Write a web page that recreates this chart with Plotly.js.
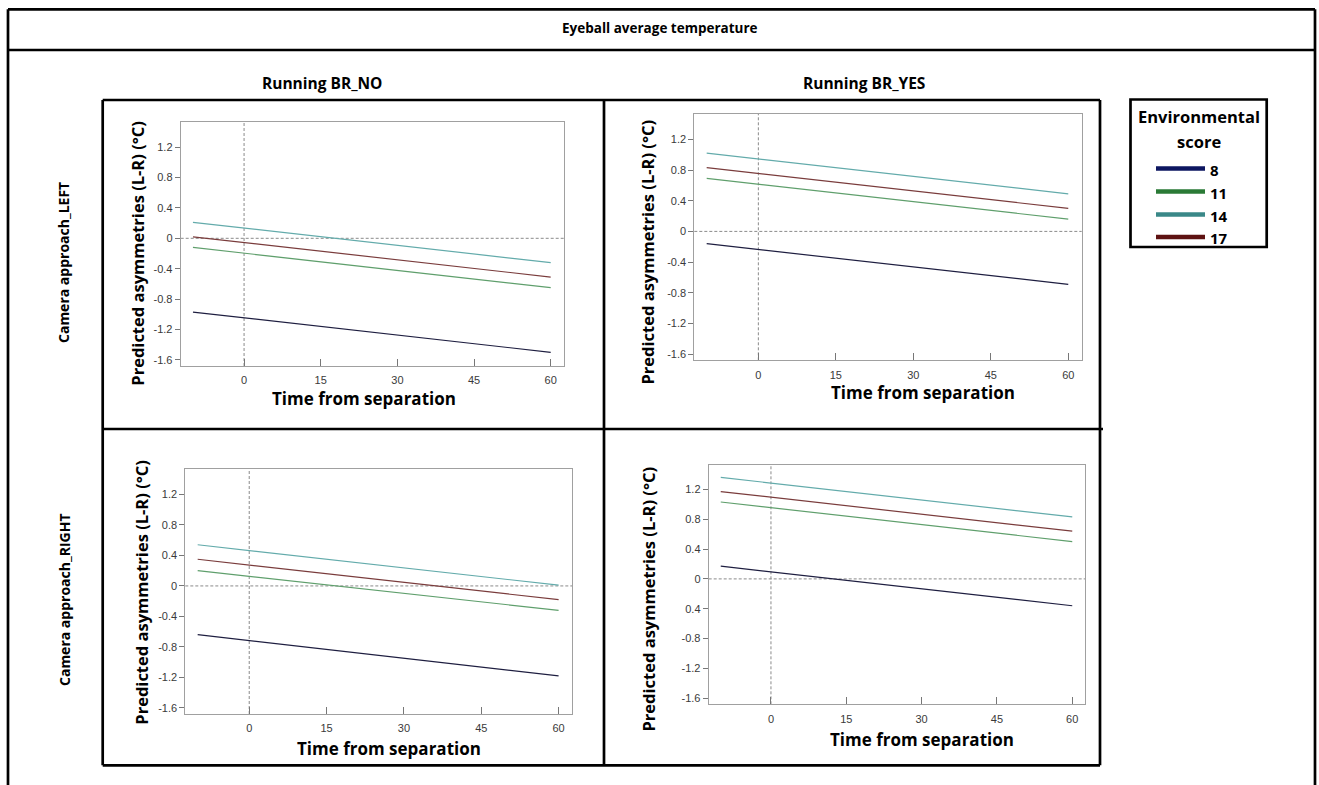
<!DOCTYPE html>
<html>
<head>
<meta charset="utf-8">
<script src="https://cdn.plot.ly/plotly-3.0.1.min.js"></script>
<style>html,body{margin:0;padding:0;background:#fff}#chart{width:1319px;height:785px}</style>
</head>
<body>
<div id="chart"></div>
<script>
// ---------------- DATA ----------------
const times = [-10, 60];
const scores = ['8', '11', '14', '17'];
const xTickVals = [0, 15, 30, 45, 60];
const yTickVals = [-1.6, -1.2, -0.8, -0.4, 0, 0.4, 0.8, 1.2];
const yTickText = ['-1.6', '-1.2', '-0.8', '-0.4', '0', '0.4', '0.8', '1.2'];
const yTickTextBR = ['-1.6', '-1.2', '-0.8', '0.4', '0', '0.4', '0.8', '1.2'];
const colTitles = ['Running BR_NO', 'Running BR_YES'];
const rowTitles = ['Camera approach_LEFT', 'Camera approach_RIGHT'];
const mainTitle = 'Eyeball average temperature';
const legendTitle = ['Environmental', 'score'];

// Predicted asymmetries (L-R) at times -10 and 60, per environmental score
const leftNo_8 = [-0.97, -1.50];
const leftNo_11 = [-0.12, -0.65];
const leftNo_14 = [0.21, -0.32];
const leftNo_17 = [0.02, -0.51];

const leftYes_8 = [-0.16, -0.69];
const leftYes_11 = [0.69, 0.16];
const leftYes_14 = [1.02, 0.49];
const leftYes_17 = [0.83, 0.30];

const rightNo_8 = [-0.64, -1.18];
const rightNo_11 = [0.20, -0.32];
const rightNo_14 = [0.54, 0.01];
const rightNo_17 = [0.35, -0.18];

const rightYes_8 = [0.17, -0.36];
const rightYes_11 = [1.03, 0.50];
const rightYes_14 = [1.36, 0.83];
const rightYes_17 = [1.17, 0.64];

// ---------------- STYLE / LAYOUT ----------------
const W = 1319, H = 785;
const px = x => x / W;
const py = y => 1 - y / H;
const lineColors = {'8': '#1e1e40', '11': '#5f9f6c', '14': '#63abab', '17': '#7a3c3c'};
const legendColors = {'8': '#0d1660', '11': '#2a7a36', '14': '#3a8888', '17': '#5e1212'};
const titleFont = 'Open Sans, DejaVu Sans, sans-serif';
const tickFont = 'Liberation Sans, Arial, sans-serif';

const panels = [
  {series: [leftNo_8, leftNo_11, leftNo_14, leftNo_17], box: [180.7, 564, 122, 366], ytext: yTickText,
   ytitle: [137.7, 253], xtitle: [364, 398]},
  {series: [leftYes_8, leftYes_11, leftYes_14, leftYes_17], box: [694.3, 1081.7, 114, 360.3], ytext: yTickText,
   ytitle: [647.5, 252], xtitle: [923, 392]},
  {series: [rightNo_8, rightNo_11, rightNo_14, rightNo_17], box: [185.3, 572, 469.3, 714], ytext: yTickText,
   ytitle: [140.7, 592], xtitle: [389, 748]},
  {series: [rightYes_8, rightYes_11, rightYes_14, rightYes_17], box: [708.7, 1085.3, 464.7, 704.3], ytext: yTickTextBR,
   ytitle: [647.5, 599], xtitle: [921.5, 739]}
];

const traces = [];
const layout = {
  width: W, height: H,
  margin: {l: 0, r: 0, t: 0, b: 0},
  paper_bgcolor: '#fff', plot_bgcolor: '#fff',
  showlegend: false,
  shapes: [], annotations: []
};

panels.forEach((p, i) => {
  const n = i + 1;
  const xa = n === 1 ? 'x' : 'x' + n;
  const ya = n === 1 ? 'y' : 'y' + n;
  p.series.forEach((vals, k) => {
    traces.push({
      type: 'scatter', mode: 'lines', x: times, y: vals,
      xaxis: xa, yaxis: ya, name: scores[k],
      line: {color: lineColors[scores[k]], width: 1.2},
      hoverinfo: 'x+y+name'
    });
  });
  const [x0, x1, y0, y1] = p.box;
  layout['xaxis' + (n === 1 ? '' : n)] = {
    domain: [px(x0), px(x1)], anchor: ya, range: [-12.4, 62.6],
    tickvals: xTickVals, ticktext: xTickVals.map(String),
    ticks: 'inside', ticklen: 7, tickcolor: '#777', tickwidth: 1,
    ticklabelstandoff: 4,
    showline: true, mirror: true, linecolor: '#a0a0a0', linewidth: 1,
    showgrid: false, zeroline: false,
    tickfont: {family: tickFont, size: 11, color: '#3a3a3a'}
  };
  layout['yaxis' + (n === 1 ? '' : n)] = {
    domain: [py(y1), py(y0)], anchor: xa, range: [-1.68, 1.53],
    tickvals: yTickVals, ticktext: p.ytext,
    ticks: 'outside', ticklen: 5, tickcolor: '#777', tickwidth: 1,
    showline: true, mirror: true, linecolor: '#a0a0a0', linewidth: 1,
    showgrid: false, zeroline: false,
    tickfont: {family: tickFont, size: 11, color: '#3a3a3a'}
  };
  // dashed reference lines at x=0 and y=0
  layout.shapes.push({type: 'line', xref: xa, yref: ya + ' domain', x0: 0, x1: 0, y0: 0, y1: 1,
    line: {color: '#8a8a8a', width: 1, dash: '3px,2px'}, layer: 'below'});
  layout.shapes.push({type: 'line', xref: xa + ' domain', yref: ya, x0: 0, x1: 1, y0: 0, y1: 0,
    line: {color: '#8a8a8a', width: 1, dash: '3px,2px'}, layer: 'below'});
  // axis titles
  layout.annotations.push({xref: 'paper', yref: 'paper', x: px(p.ytitle[0]), y: py(p.ytitle[1]),
    text: 'Predicted asymmetries (L-R) (°C)', textangle: -90, showarrow: false,
    xanchor: 'center', yanchor: 'middle',
    font: {family: titleFont, size: 16.5, weight: 700, color: '#000'}});
  layout.annotations.push({xref: 'paper', yref: 'paper', x: px(p.xtitle[0]), y: py(p.xtitle[1]),
    text: 'Time from separation', showarrow: false, xanchor: 'center', yanchor: 'middle',
    font: {family: titleFont, size: 17, weight: 700, color: '#000'}});
});

// frames
const black = {color: '#000', width: 2.7};
const seg = (xa, ya, xb, yb) => ({type: 'line', xref: 'paper', yref: 'paper',
  x0: px(xa), y0: py(ya), x1: px(xb), y1: py(yb), line: black});
layout.shapes.push(seg(8, 9.3, 1315, 9.3));
layout.shapes.push(seg(8, 9.3, 8, 790));
layout.shapes.push(seg(1315, 9.3, 1315, 790));
layout.shapes.push(seg(8, 50, 1315, 50));
// panel grid box
layout.shapes.push(seg(102.7, 100, 1100, 100));
layout.shapes.push(seg(102.7, 765.3, 1100, 765.3));
layout.shapes.push(seg(102.7, 100, 102.7, 765.3));
layout.shapes.push(seg(1100, 100, 1100, 765.3));
layout.shapes.push(seg(604, 100, 604, 765.3));
layout.shapes.push(seg(102.7, 429, 1103, 429));
// legend box
layout.shapes.push({type: 'rect', xref: 'paper', yref: 'paper',
  x0: px(1130.5), x1: px(1266.7), y0: py(99.5), y1: py(247), line: black, fillcolor: 'rgba(0,0,0,0)'});

// legend entries
const legendY = [168.5, 191.5, 214.5, 237];
scores.forEach((s, k) => {
  layout.shapes.push({type: 'line', xref: 'paper', yref: 'paper',
    x0: px(1156), x1: px(1205), y0: py(legendY[k]), y1: py(legendY[k]),
    line: {color: legendColors[s], width: 4.5}});
  layout.annotations.push({xref: 'paper', yref: 'paper', x: px(1208), y: py(legendY[k] + 1),
    text: s, showarrow: false, xanchor: 'left', yanchor: 'middle',
    font: {family: titleFont, size: 15, weight: 700, color: '#000'}});
});
layout.annotations.push({xref: 'paper', yref: 'paper', x: px(1198.5), y: py(116.7),
  text: legendTitle[0], showarrow: false, xanchor: 'center', yanchor: 'middle',
  font: {family: titleFont, size: 16.5, weight: 700, color: '#000'}});
layout.annotations.push({xref: 'paper', yref: 'paper', x: px(1198.5), y: py(141.7),
  text: legendTitle[1], showarrow: false, xanchor: 'center', yanchor: 'middle',
  font: {family: titleFont, size: 16.5, weight: 700, color: '#000'}});

// main title, column and row headers
layout.annotations.push({xref: 'paper', yref: 'paper', x: px(660), y: py(28),
  text: mainTitle, showarrow: false, xanchor: 'center', yanchor: 'middle',
  font: {family: titleFont, size: 13.5, weight: 700, color: '#000'}});
layout.annotations.push({xref: 'paper', yref: 'paper', x: px(322), y: py(83),
  text: colTitles[0], showarrow: false, xanchor: 'center', yanchor: 'middle',
  font: {family: titleFont, size: 15.5, weight: 700, color: '#000'}});
layout.annotations.push({xref: 'paper', yref: 'paper', x: px(864), y: py(83),
  text: colTitles[1], showarrow: false, xanchor: 'center', yanchor: 'middle',
  font: {family: titleFont, size: 15.5, weight: 700, color: '#000'}});
layout.annotations.push({xref: 'paper', yref: 'paper', x: px(64), y: py(263),
  text: rowTitles[0], textangle: -90, showarrow: false, xanchor: 'center', yanchor: 'middle',
  font: {family: titleFont, size: 14, weight: 700, color: '#000'}});
layout.annotations.push({xref: 'paper', yref: 'paper', x: px(64), y: py(600),
  text: rowTitles[1], textangle: -90, showarrow: false, xanchor: 'center', yanchor: 'middle',
  font: {family: titleFont, size: 14, weight: 700, color: '#000'}});

Plotly.newPlot('chart', traces, layout, {displayModeBar: false, staticPlot: true});
</script>
</body>
</html>
